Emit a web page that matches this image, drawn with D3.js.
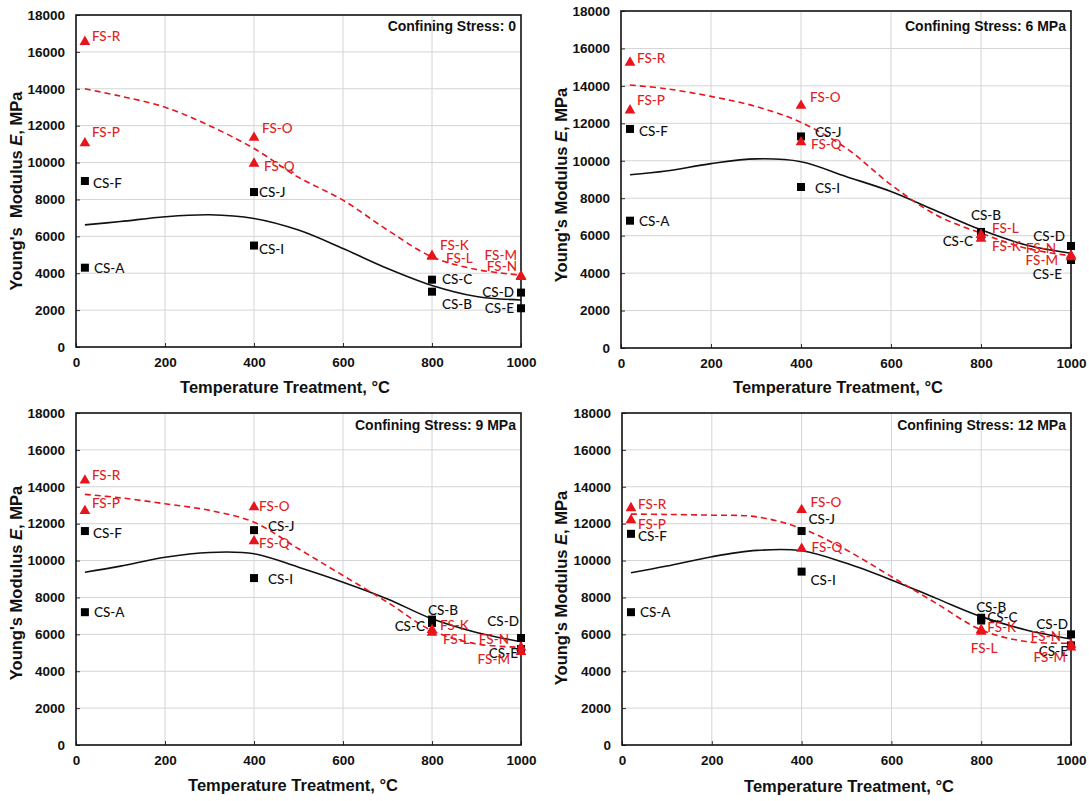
<!DOCTYPE html>
<html><head><meta charset="utf-8">
<script src="https://cdn.jsdelivr.net/npm/d3@7/dist/d3.min.js"></script>
<style>body{margin:0;background:#fff}svg{display:block}</style>
</head><body>
<svg id="c" width="1089" height="801"></svg>
<script>
// ---------------- DATA ----------------
const panelTitles = ["Confining Stress: 0", "Confining Stress: 6 MPa", "Confining Stress: 9 MPa", "Confining Stress: 12 MPa"];
const xTicks = [0, 200, 400, 600, 800, 1000];
const yTicks = [0, 2000, 4000, 6000, 8000, 10000, 12000, 14000, 16000, 18000];

const csLabels = ["CS-A", "CS-F", "CS-I", "CS-J", "CS-B", "CS-C", "CS-D", "CS-E"];
const csTemps  = [20, 20, 400, 400, 800, 800, 1000, 1000];
const cs0  = [4300, 9000, 5500, 8400, 3000, 3650, 2950, 2100];
const cs6  = [6800, 11700, 8600, 11300, 6200, 6050, 5450, 4700];
const cs9  = [7200, 11600, 9050, 11650, 6800, 6620, 5800, 5200];
const cs12 = [7200, 11450, 9400, 11600, 6900, 6750, 6000, 5400];

const fsLabels = ["FS-R", "FS-P", "FS-O", "FS-Q", "FS-K", "FS-L", "FS-M", "FS-N"];
const fsTemps  = [20, 20, 400, 400, 800, 800, 1000, 1000];
const fs0  = [16600, 11100, 11400, 10000, 5000, 4950, 3850, 3900];
const fs6  = [15300, 12750, 13000, 11050, 5900, 6100, 4900, 5000];
const fs9  = [14400, 12750, 12950, 11100, 6300, 6150, 5100, 5350];
const fs12 = [12900, 12250, 12800, 10700, 6300, 6200, 5350, 5500];

// trend curves
const curveTemps = [20, 100, 200, 300, 400, 500, 600, 700, 800, 900, 1000];
const csFit0  = [6620, 6800, 7060, 7170, 6970, 6340, 5340, 4260, 3340, 2740, 2550];
const csFit6  = [9250, 9450, 9850, 10100, 9950, 9160, 8360, 7330, 6310, 5500, 5060];
const csFit9  = [9370, 9700, 10180, 10440, 10370, 9640, 8830, 7920, 6840, 6100, 5600];
const csFit12 = [9340, 9700, 10210, 10550, 10530, 9850, 8950, 7950, 6960, 6240, 5750];
const fsFit0  = [14000, 13600, 13000, 12000, 10760, 9200, 7960, 6340, 4890, 4200, 3900];
const fsFit6  = [14050, 13850, 13440, 12900, 12050, 10680, 8720, 7110, 6130, 5330, 4920];
const fsFit9  = [13590, 13400, 13080, 12720, 12080, 10640, 9190, 7740, 6200, 5480, 5300];
const fsFit12 = [12520, 12500, 12460, 12370, 11740, 10570, 9130, 7680, 6240, 5610, 5520];

const csSets = [cs0, cs6, cs9, cs12];
const fsSets = [fs0, fs6, fs9, fs12];
const csFits = [csFit0, csFit6, csFit9, csFit12];
const fsFits = [fsFit0, fsFit6, fsFit9, fsFit12];

// ---------------- LAYOUT ----------------
const boxes = [
  {x0: 76,  x1: 521,  y0: 15,  y1: 347, xt: [285, 387], yt: [16, 191], ttlDy: 11, yTitle: "Young's  Modulus "},
  {x0: 621, x1: 1071, y0: 11,  y1: 348, xt: [838, 387], yt: [561, 185], ttlDy: 15, yTitle: "Young's Modulus "},
  {x0: 76,  x1: 521,  y0: 413, y1: 745, xt: [293, 785], yt: [16, 583], ttlDy: 12, yTitle: "Young's Modulus "},
  {x0: 622, x1: 1071, y0: 413, y1: 745, xt: [849, 786], yt: [561, 588], ttlDy: 12, yTitle: "Young's Modulus "}
];
// label offsets [dx, dy, anchor]
const csOff = [
  {"CS-A":[9,0,"start"],"CS-F":[8,2,"start"],"CS-I":[5,3,"start"],"CS-J":[5,0,"start"],"CS-B":[10,12,"start"],"CS-C":[10,-1,"start"],"CS-D":[-7,-1,"end"],"CS-E":[-7,0,"end"]},
  {"CS-A":[9,0,"start"],"CS-F":[9,2,"start"],"CS-I":[14,1,"start"],"CS-J":[14,-4,"start"],"CS-B":[5,-17,"middle"],"CS-C":[-8,6,"end"],"CS-D":[-6,-10,"end"],"CS-E":[-9,14,"end"]},
  {"CS-A":[9,0,"start"],"CS-F":[8,2,"start"],"CS-I":[14,1,"start"],"CS-J":[14,-4,"start"],"CS-B":[11,-10,"middle"],"CS-C":[-7,3,"end"],"CS-D":[-2,-17,"end"],"CS-E":[-3,4,"end"]},
  {"CS-A":[9,0,"start"],"CS-F":[7,2,"start"],"CS-I":[9,8,"start"],"CS-J":[7,-12,"start"],"CS-B":[10,-11,"middle"],"CS-C":[6,-4,"start"],"CS-D":[-3,-10,"end"],"CS-E":[-3,6,"end"]}
];
const fsOff = [
  {"FS-R":[7,-5,"start"],"FS-P":[7,-10,"start"],"FS-O":[8,-9,"start"],"FS-Q":[10,3,"start"],"FS-K":[8,-10,"start"],"FS-L":[14,2,"start"],"FS-M":[-4,-21,"end"],"FS-N":[-4,-9,"end"]},
  {"FS-R":[7,-4,"start"],"FS-P":[7,-9,"start"],"FS-O":[9,-8,"start"],"FS-Q":[10,3,"start"],"FS-K":[11,8,"start"],"FS-L":[11,-6,"start"],"FS-M":[-13,4,"end"],"FS-N":[-15,-6,"end"]},
  {"FS-R":[7,-4,"start"],"FS-P":[7,-7,"start"],"FS-O":[5,0,"start"],"FS-Q":[5,3,"start"],"FS-K":[8,-4,"start"],"FS-L":[11,7,"start"],"FS-M":[-11,8,"end"],"FS-N":[-12,-7,"end"]},
  {"FS-R":[7,-3,"start"],"FS-P":[7,5,"start"],"FS-O":[9,-7,"start"],"FS-Q":[10,-1,"start"],"FS-K":[6,-2,"start"],"FS-L":[3,17,"middle"],"FS-M":[-5,11,"end"],"FS-N":[-10,-8,"end"]}
];

const RED = "#e8141c";
const LBL_RED = "#df1f26";
const svg = d3.select("#c");
const tickFont = "'Liberation Sans', Arial, sans-serif";
const lblFont = "Lato, 'Open Sans', sans-serif";

boxes.forEach((b, i) => {
  const x = d3.scaleLinear().domain([0, 1000]).range([b.x0, b.x1]);
  const y = d3.scaleLinear().domain([0, 18000]).range([b.y1, b.y0]);
  const g = svg.append("g");

  // gridlines
  g.append("g").selectAll("line").data(xTicks.slice(1, -1)).join("line")
    .attr("x1", d => x(d)).attr("x2", d => x(d)).attr("y1", b.y0).attr("y2", b.y1)
    .attr("stroke", "#d4d4d4").attr("stroke-width", 1);
  g.append("g").selectAll("line").data(yTicks.slice(1, -1)).join("line")
    .attr("y1", d => y(d)).attr("y2", d => y(d)).attr("x1", b.x0).attr("x2", b.x1)
    .attr("stroke", "#d4d4d4").attr("stroke-width", 1);

  // axes
  const xa = g.append("g").attr("transform", `translate(0,${b.y1})`)
    .call(d3.axisBottom(x).tickValues(xTicks).tickSize(-4).tickPadding(10).tickFormat(d3.format("d")));
  const ya = g.append("g").attr("transform", `translate(${b.x0},0)`)
    .call(d3.axisLeft(y).tickValues(yTicks).tickSize(-4).tickPadding(11).tickFormat(d3.format("d")));
  [xa, ya].forEach(a => {
    a.select(".domain").remove();
    a.selectAll(".tick line").attr("stroke", "#333");
    a.selectAll("text").attr("font-family", tickFont).attr("font-size", 13.5)
      .attr("font-weight", "bold").attr("fill", "#111");
  });
  // frame
  g.append("rect").attr("x", b.x0).attr("y", b.y0).attr("width", b.x1 - b.x0).attr("height", b.y1 - b.y0)
    .attr("fill", "none").attr("stroke", "#111").attr("stroke-width", 1.6);

  // curves
  const line = d3.line().x(d => x(d[0])).y(d => y(d[1])).curve(d3.curveCatmullRom.alpha(0.5));
  g.append("path").attr("d", line(curveTemps.map((t, k) => [t, csFits[i][k]])))
    .attr("fill", "none").attr("stroke", "#111").attr("stroke-width", 1.6);
  g.append("path").attr("d", line(curveTemps.map((t, k) => [t, fsFits[i][k]])))
    .attr("fill", "none").attr("stroke", RED).attr("stroke-width", 1.6).attr("stroke-dasharray", "6,4");

  // CS squares
  const cs = csLabels.map((l, k) => ({l, t: csTemps[k], v: csSets[i][k]}));
  g.append("g").selectAll("rect").data(cs).join("rect")
    .attr("x", d => x(d.t) - 4).attr("y", d => y(d.v) - 4).attr("width", 8).attr("height", 8).attr("fill", "#000");
  // FS triangles
  const fs = fsLabels.map((l, k) => ({l, t: fsTemps[k], v: fsSets[i][k]}));
  g.append("g").selectAll("path").data(fs).join("path")
    .attr("d", d3.symbol(d3.symbolTriangle, 50)())
    .attr("transform", d => `translate(${x(d.t)},${y(d.v) + 1})`).attr("fill", RED);

  // labels
  g.append("g").selectAll("text").data(cs).join("text")
    .attr("x", d => x(d.t) + csOff[i][d.l][0]).attr("y", d => y(d.v) + csOff[i][d.l][1])
    .attr("text-anchor", d => csOff[i][d.l][2]).attr("dominant-baseline", "central")
    .attr("font-family", lblFont).attr("font-size", 13.5).attr("font-weight", 500).attr("fill", "#111").text(d => d.l);
  g.append("g").selectAll("text").data(fs).join("text")
    .attr("x", d => x(d.t) + fsOff[i][d.l][0]).attr("y", d => y(d.v) + fsOff[i][d.l][1])
    .attr("text-anchor", d => fsOff[i][d.l][2]).attr("dominant-baseline", "central")
    .attr("font-family", lblFont).attr("font-size", 13.5).attr("font-weight", 500).attr("fill", LBL_RED).text(d => d.l);

  // panel title
  g.append("text").attr("x", b.x1 - 5).attr("y", b.y0 + b.ttlDy).attr("text-anchor", "end")
    .attr("dominant-baseline", "central").attr("font-family", tickFont).attr("font-weight", "bold")
    .attr("font-size", 14).attr("fill", "#111").text(panelTitles[i]);

  // axis titles
  g.append("text").attr("x", b.xt[0]).attr("y", b.xt[1]).attr("text-anchor", "middle")
    .attr("dominant-baseline", "central").attr("font-family", tickFont).attr("font-weight", "bold")
    .attr("font-size", 16.5).attr("fill", "#111").text("Temperature Treatment, °C");
  const yt = g.append("text").attr("transform", `translate(${b.yt[0]},${b.yt[1]}) rotate(-90)`)
    .attr("text-anchor", "middle").attr("dominant-baseline", "central").attr("font-family", tickFont)
    .attr("font-weight", "bold").attr("font-size", 16.5).attr("fill", "#111").style("white-space", "pre");
  yt.append("tspan").text(b.yTitle);
  yt.append("tspan").attr("font-style", "italic").text("E");
  yt.append("tspan").text(", MPa");
});
</script>
</body></html>
